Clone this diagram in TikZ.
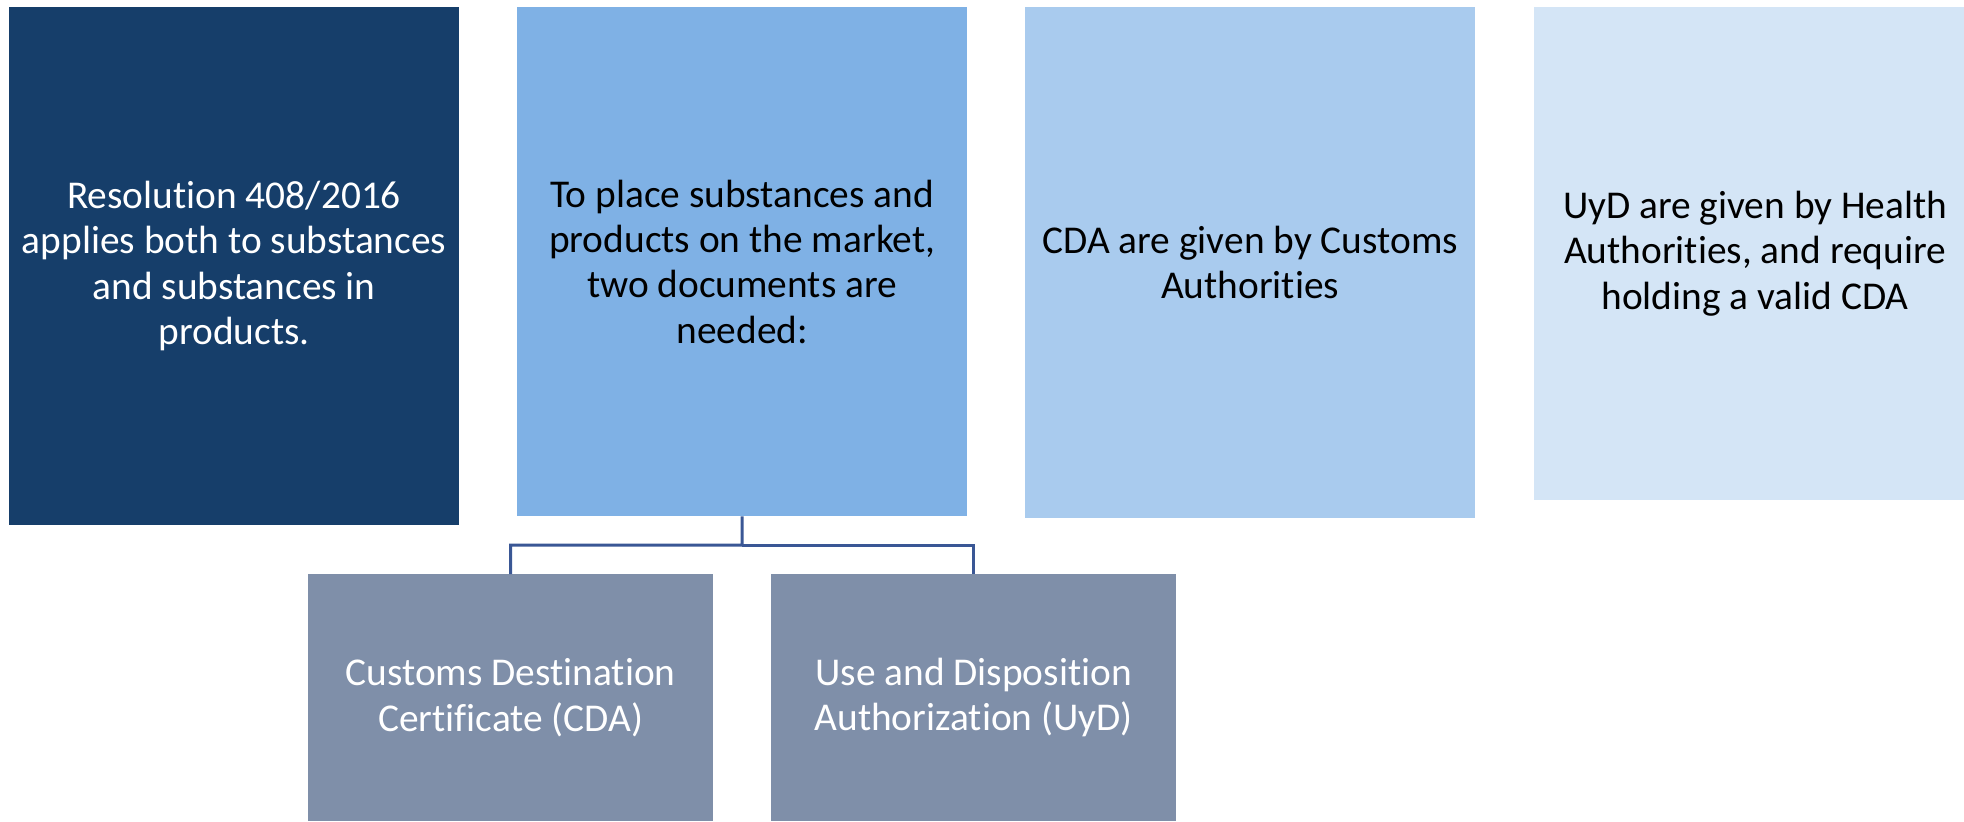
\documentclass[tikz,border=0pt]{standalone}
\usepackage{fontspec}
\setmainfont{Carlito}[Ligatures={NoCommon}]
\usetikzlibrary{calc}
\definecolor{navy}{HTML}{163E6A}
\definecolor{mid}{HTML}{7FB1E5}
\definecolor{light}{HTML}{A9CBEE}
\definecolor{pale}{HTML}{D4E5F6}
\definecolor{slate}{HTML}{7F8FA9}
\definecolor{lineblue}{HTML}{3A5795}
\tikzset{
  box/.style={anchor=north west, inner sep=0pt, outer sep=0pt, align=center,
    font=\fontsize{11.2}{12.9}\selectfont},
  conn/.style={draw=lineblue, line width=0.85pt}
}
\begin{document}
\begin{tikzpicture}[x=0.01cm, y=-0.01cm]
\useasboundingbox (0,0) rectangle (1964,821);
\node[box, fill=navy, text=white, minimum width=4.5cm, minimum height=5.18cm] (b1) at (9,7)
  {Resolution 408/2016\\applies both to substances\\and substances in\\products.};
\node[box, fill=mid, text=black, minimum width=4.5cm, minimum height=5.09cm] (b2) at (517,7)
  {To place substances and\\products on the market,\\two documents are\\needed:};
\node[box, fill=light, text=black, minimum width=4.5cm, minimum height=5.11cm] (b3) at (1025,7)
  {CDA are given by Customs\\Authorities};
\node[box, fill=pale, text=black, minimum width=4.42cm, minimum height=4.93cm] (b4) at (1534,7)
  {UyD are given by Health\\Authorities, and require\\holding a valid CDA};
\node[box, fill=slate, text=white, minimum width=4.05cm, minimum height=2.47cm] (b5) at (308,574)
  {Customs Destination\\Certificate (CDA)};
\node[box, fill=slate, text=white, minimum width=4.05cm, minimum height=2.47cm] (b6) at (771,574)
  {Use and Disposition\\Authorization (UyD)};
\coordinate (j) at ($(b2.south)!0.5!(b2.south |- b5.north)$);
\draw[conn] (b2.south) -- (j) -| (b5.north);
\draw[conn] (j) -| (b6.north);
\end{tikzpicture}
\end{document}
